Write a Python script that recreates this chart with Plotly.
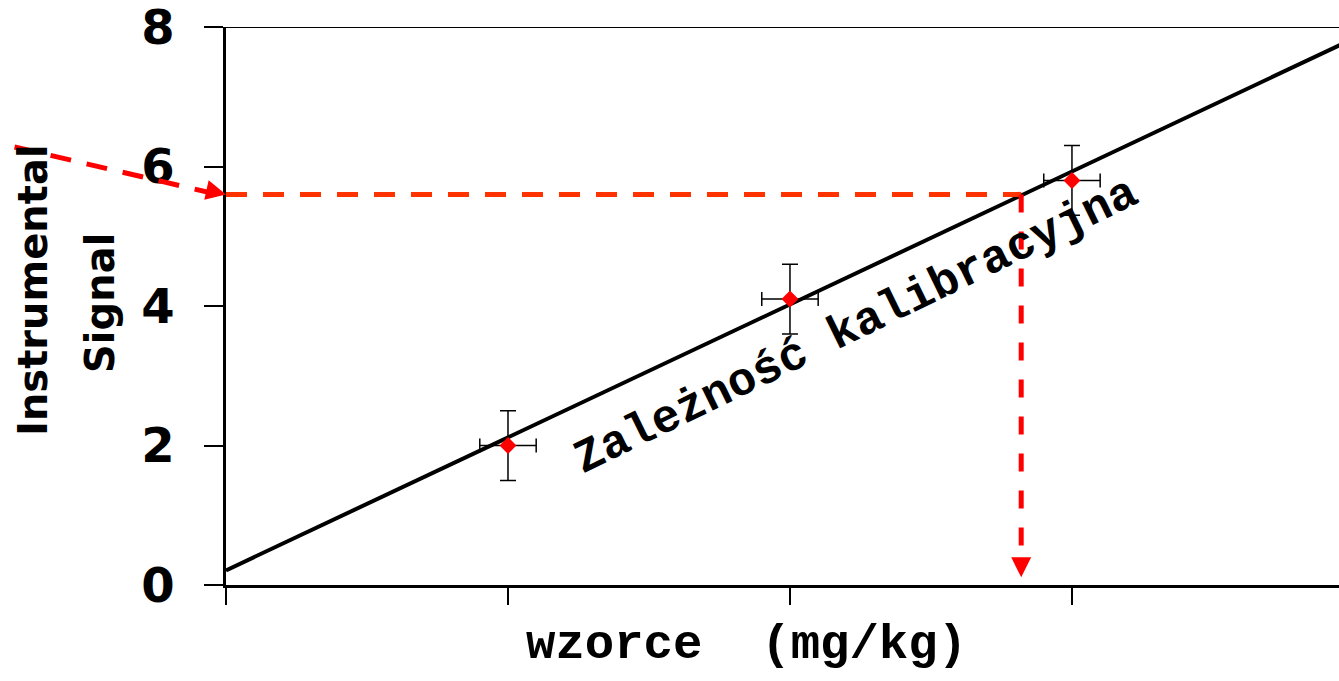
import plotly.graph_objects as go

# ---- data ----
conc = [1, 2, 3]
signal = [2.0, 4.1, 5.8]
signal_err = [0.5, 0.5, 0.5]
conc_err = [0.1, 0.1, 0.1]
fit_x = [0, 3.95]
fit_y = [0.21, 7.74]
unknown_signal = 5.6
unknown_conc = 2.82
y_ticks = [0, 2, 4, 6, 8]
x_ticks = [0, 1, 2, 3]
x_title = "wzorce  (mg/kg)"
y_title_lines = ["Instrumental", "Signal"]
curve_label = "Zależność kalibracyjna"

fig = go.Figure()

fig.add_trace(go.Scatter(
    x=fit_x, y=fit_y, mode="lines",
    line=dict(color="black", width=4), showlegend=False, hoverinfo="skip"))

fig.add_trace(go.Scatter(
    x=conc, y=signal, mode="markers",
    marker=dict(symbol="diamond", color="#FF0000", size=13),
    error_y=dict(type="data", array=signal_err, color="black", thickness=1.5, width=8),
    error_x=dict(type="data", array=conc_err, color="black", thickness=1.5, width=7),
    showlegend=False))

# dashed guide lines
fig.add_shape(type="line", xref="x", yref="y",
              x0=0, y0=unknown_signal, x1=unknown_conc, y1=unknown_signal,
              line=dict(color="#FF3300", width=5, dash="21px,16px"))
fig.add_shape(type="line", xref="x", yref="y",
              x0=unknown_conc, y0=unknown_signal, x1=unknown_conc, y1=0.3,
              line=dict(color="#FF0000", width=5, dash="18px,19px"))
fig.add_shape(type="line", xref="paper", yref="paper",
              x0=-0.19, y0=0.785, x1=-0.012, y1=unknown_signal / 8 + 0.002,
              line=dict(color="#FF0000", width=5, dash="21px,16px"))
# top border
fig.add_shape(type="line", xref="paper", yref="y", x0=-0.017, x1=1, y0=8, y1=8,
              line=dict(color="black", width=2))

# arrowheads
fig.add_annotation(x=unknown_conc, y=0.11, xref="x", yref="y", text="",
                   showarrow=True, arrowhead=2, arrowsize=1.0, arrowwidth=4,
                   arrowcolor="#FF0000", ax=0, ay=-18)
fig.add_annotation(x=0, y=unknown_signal, xref="x", yref="y", text="",
                   showarrow=True, arrowhead=2, arrowsize=1.0, arrowwidth=4,
                   arrowcolor="#FF0000", ax=-18, ay=-4)

# rotated curve label
fig.add_annotation(x=2.235, y=3.71, xref="x", yref="y", text=curve_label,
                   showarrow=False, textangle=-26,
                   font=dict(family="Liberation Mono", size=47, color="black", weight="bold"))

# axis titles
fig.add_annotation(x=-0.1734, y=0.5287, xref="paper", yref="paper",
                   text=y_title_lines[0], showarrow=False, textangle=-90,
                   xanchor="center", yanchor="middle",
                   font=dict(family="DejaVu Sans", size=40, color="black", weight="bold"))
fig.add_annotation(x=-0.1132, y=0.5054, xref="paper", yref="paper",
                   text=y_title_lines[1], showarrow=False, textangle=-90,
                   xanchor="center", yanchor="middle",
                   font=dict(family="DejaVu Sans", size=40, color="black", weight="bold"))
fig.add_annotation(x=0.468, y=-0.108, xref="paper", yref="paper",
                   text=x_title, showarrow=False, xanchor="center", yanchor="middle",
                   font=dict(family="Liberation Mono", size=49, color="black", weight="bold"))

fig.update_xaxes(range=[0, 3.947], tickvals=x_ticks, showticklabels=False,
                 ticks="outside", ticklen=17, tickwidth=2, tickcolor="black",
                 showline=True, linecolor="black", linewidth=2.5,
                 showgrid=False, zeroline=False)
fig.update_yaxes(range=[0, 8], tickvals=y_ticks, ticks="outside", ticklen=19,
                 tickwidth=2, tickcolor="black",
                 showline=True, linecolor="black", linewidth=2.5,
                 showgrid=False, zeroline=False, ticklabelstandoff=20,
                 ticklabeloverflow="allow",
                 tickfont=dict(family="DejaVu Sans", size=48, color="black", weight="bold"))

fig.update_layout(width=1339, height=681,
                  margin=dict(l=226, r=0, t=27, b=96),
                  plot_bgcolor="white", paper_bgcolor="white")

fig.write_html("out.html", config={"displayModeBar": False},
               post_script="document.body.style.margin='0';document.body.style.overflow='hidden';")
